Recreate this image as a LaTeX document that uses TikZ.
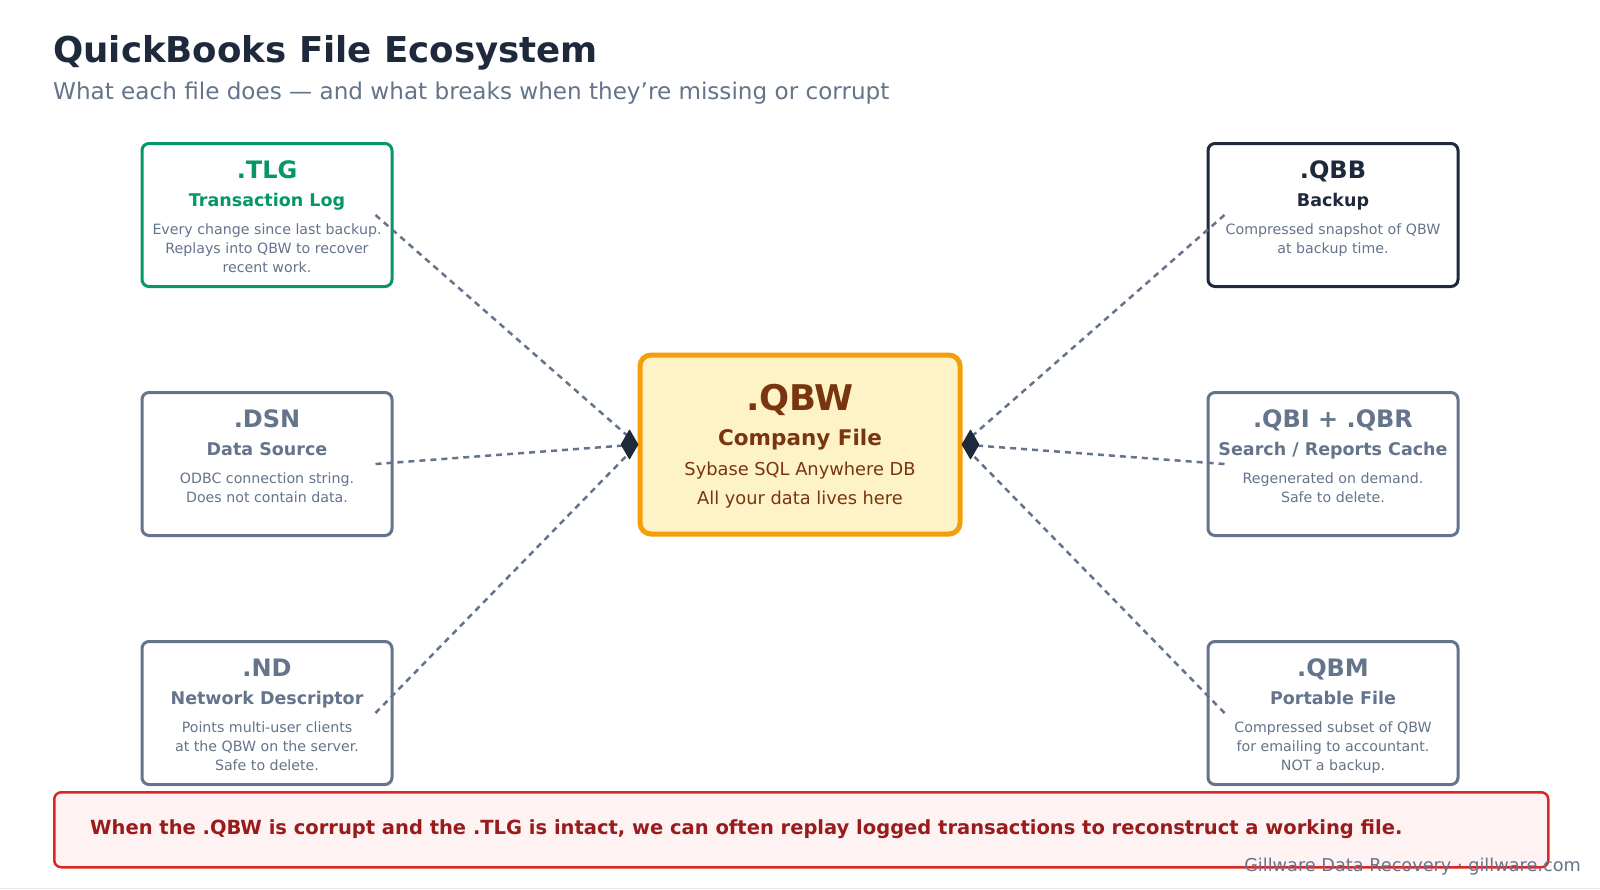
\documentclass[tikz,border=0pt]{standalone}
\usepackage{fontspec}
\setmainfont{DejaVu Sans}
\usetikzlibrary{calc,shapes.geometric}
\definecolor{navy}{HTML}{1E293B}
\definecolor{slate}{HTML}{64748B}
\definecolor{emer}{HTML}{059669}
\definecolor{amberf}{HTML}{FEF3C7}
\definecolor{amberd}{HTML}{F59E0B}
\definecolor{brownt}{HTML}{78350F}
\definecolor{redf}{HTML}{FEF2F2}
\definecolor{redd}{HTML}{DC2626}
\definecolor{redt}{HTML}{991B1B}
\definecolor{rulec}{HTML}{E5E7EB}
\tikzset{
  filebox/.style={line width=3pt, rounded corners=7pt, fill=white, minimum width=250pt, minimum height=143pt, inner sep=0pt},
  ftitle/.style={anchor=base, inner sep=0pt, font=\fontsize{24}{28}\selectfont\bfseries},
  fsub/.style={anchor=base, inner sep=0pt, font=\fontsize{17.5}{21}\selectfont\bfseries},
  fdesc/.style={anchor=base, inner sep=0pt, align=center, text=slate, font=\fontsize{14.2}{19.4}\selectfont},
  conn/.style={draw=slate, line width=2.5pt, dash pattern=on 6pt off 5pt},
  endmark/.style={diamond, fill=navy, draw=navy, line width=1pt, line join=round, inner sep=0pt, minimum width=17pt, minimum height=29pt},
}
% #9 = number of description lines (base anchor is the last line)
\newcommand\fbx[9]{%
  \node[filebox, draw=#4, anchor=north] (#1) at (#2,#3) {};
  \node[ftitle, text=#5] (#1-t) at (#2,#3+36.5) {#6};
  \node[fsub, text=#5] (#1-s) at (#2,#3+64) {#7};
  \node[fdesc] (#1-d) at (#2,#3+92+#9*19.4-19.4) {#8};
}
\begin{document}
\begin{tikzpicture}[x=1pt,y=-1pt]
\useasboundingbox (0,0) rectangle (1600,889);
\fill[white] (0,0) rectangle (1600,889);
\draw[rulec, line width=1pt] (0,888.3) -- (1600,888.3);
% title
\node[anchor=base west, inner sep=0pt, text=navy, font=\fontsize{35.6}{40}\selectfont\bfseries] (title) at (53,62) {QuickBooks File Ecosystem};
\node[anchor=base west, inner sep=0pt, text=slate, font=\fontsize{23.1}{27}\selectfont] (subtitle) at (53,99) {What each file does — and what breaks when they’re missing or corrupt};
% side boxes
\fbx{tlg}{267}{142}{emer}{emer}{.TLG}{Transaction Log}{Every change since last backup.\\Replays into QBW to recover\\recent work.}{3}
\fbx{dsn}{267}{391}{slate}{slate}{.DSN}{Data Source}{ODBC connection string.\\Does not contain data.}{2}
\fbx{nd}{267}{640}{slate}{slate}{.ND}{Network Descriptor}{Points multi-user clients\\at the QBW on the server.\\Safe to delete.}{3}
\fbx{qbb}{1333}{142}{navy}{navy}{.QBB}{Backup}{Compressed snapshot of QBW\\at backup time.}{2}
\fbx{qbi}{1333}{391}{slate}{slate}{.QBI + .QBR}{Search / Reports Cache}{Regenerated on demand.\\Safe to delete.}{2}
\fbx{qbm}{1333}{640}{slate}{slate}{.QBM}{Portable File}{Compressed subset of QBW\\for emailing to accountant.\\NOT a backup.}{3}
% center box
\node[draw=amberd, fill=amberf, line width=5pt, rounded corners=11pt, minimum width=320pt, minimum height=179pt, inner sep=0pt] (qbw) at (800,444.5) {};
\node[anchor=base, inner sep=0pt, text=brownt, font=\fontsize{35.4}{38}\selectfont\bfseries] (qbw-t) at (800,410) {.QBW};
\node[anchor=base, inner sep=0pt, text=brownt, font=\fontsize{21.5}{25}\selectfont\bfseries] (qbw-s) at (800,445) {Company File};
\node[anchor=base, inner sep=0pt, text=brownt, font=\fontsize{17.8}{21}\selectfont] (qbw-d1) at (800,475.5) {Sybase SQL Anywhere DB};
\node[anchor=base, inner sep=0pt, text=brownt, font=\fontsize{17.8}{21}\selectfont] (qbw-d2) at (800,504) {All your data lives here};
% connectors
\coordinate (tlg-a) at ($(tlg.east)+(-18,0)$);
\coordinate (dsn-a) at ($(dsn.east)+(-18,0)$);
\coordinate (nd-a) at ($(nd.east)+(-18,0)$);
\coordinate (qbb-a) at ($(qbb.west)+(18,0)$);
\coordinate (qbi-a) at ($(qbi.west)+(18,0)$);
\coordinate (qbm-a) at ($(qbm.west)+(18,0)$);
\draw[conn] (tlg-a) -- (qbw.west);
\draw[conn] (dsn-a) -- (qbw.west);
\draw[conn] (nd-a) -- (qbw.west);
\draw[conn] (qbb-a) -- (qbw.east);
\draw[conn] (qbi-a) -- (qbw.east);
\draw[conn] (qbm-a) -- (qbw.east);
\node[endmark, anchor=east] (mk-l) at ($(qbw.west)+(1,0)$) {};
\node[endmark, anchor=west] (mk-r) at ($(qbw.east)+(-1,0)$) {};
% note
\node[draw=redd, fill=redf, line width=2.5pt, rounded corners=7pt, minimum width=1494pt, minimum height=75pt, inner sep=0pt, anchor=north west] (note) at (53,791) {};
\node[anchor=base west, inner sep=0pt, text=redt, font=\fontsize{19.5}{23}\selectfont\bfseries] (note-t) at (90,834) {When the .QBW is corrupt and the .TLG is intact, we can often replay logged transactions to reconstruct a working file.};
% footer
\node[anchor=base east, inner sep=0pt, text=slate, font=\fontsize{17.7}{21}\selectfont] (footer) at (1581,871) {Gillware Data Recovery · gillware.com};
\end{tikzpicture}
\end{document}
